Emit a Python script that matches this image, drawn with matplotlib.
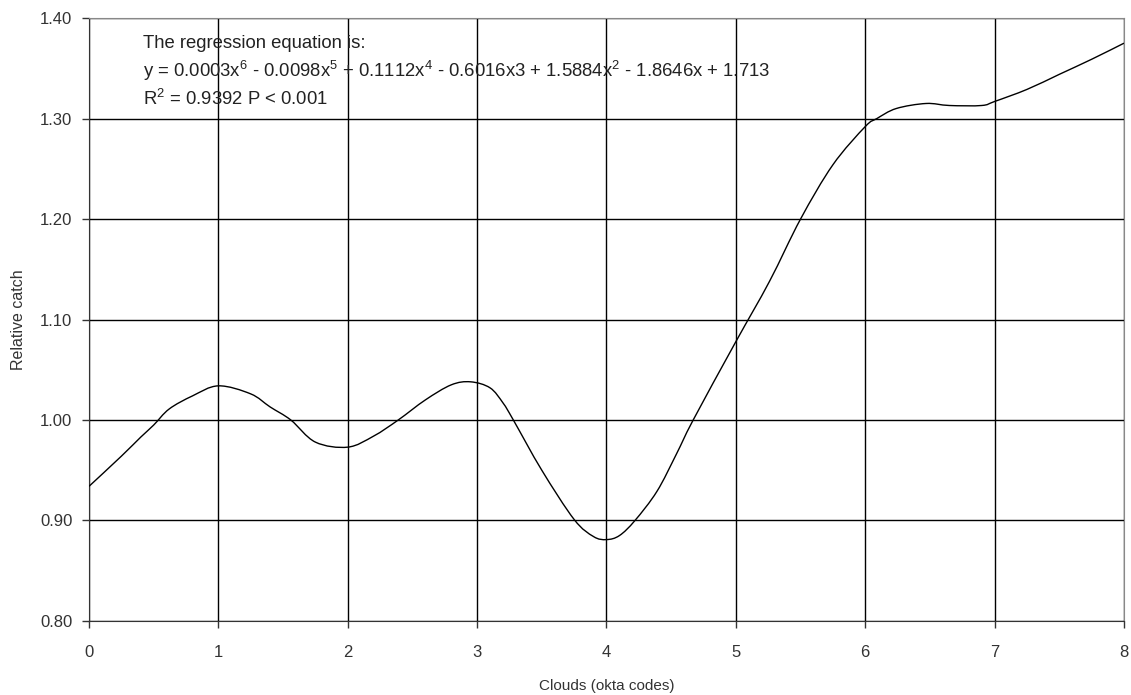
import numpy as np
import matplotlib
matplotlib.use("Agg")
import matplotlib.pyplot as plt
from matplotlib.path import Path
from matplotlib.patches import PathPatch

plt.rcParams['font.family'] = ['Liberation Sans', 'DejaVu Sans']
plt.rcParams['mathtext.fontset'] = 'custom'
plt.rcParams['mathtext.rm'] = 'Liberation Sans'
plt.rcParams['mathtext.it'] = 'Liberation Sans'

# relative catch
clouds = [0, 0.25, 0.4, 0.5, 0.62, 0.8, 1.0, 1.25, 1.4, 1.56, 1.75, 2.0,
          2.2, 2.39, 2.6, 2.8, 2.95, 3.1, 3.2, 3.28, 3.5, 3.75, 3.9, 4.0,
          4.1, 4.22, 4.39, 4.54, 4.67, 5.0, 5.26, 5.5, 5.75, 6.0, 6.09,
          6.24, 6.47, 6.65, 6.9, 7.0, 7.25, 7.5, 7.75, 8.0]
catch = [0.934, 0.964, 0.983, 0.995, 1.011, 1.024, 1.034, 1.026, 1.013, 1.000, 0.978, 0.973,
         0.984, 1.000, 1.020, 1.035, 1.038, 1.032, 1.017, 1.000, 0.950, 0.901, 0.884, 0.881,
         0.885, 0.900, 0.929, 0.966, 1.000, 1.078, 1.138, 1.200, 1.254, 1.292, 1.300,
         1.310, 1.315, 1.313, 1.313, 1.317, 1.329, 1.344, 1.359, 1.375]

x_ticks = list(range(0, 9))
y_ticks = [0.80, 0.90, 1.00, 1.10, 1.20, 1.30, 1.40]

equation_lines = [
    "The regression equation is:",
    "y = 0.0003x$^{6}$ - 0.0098x$^{5}$ + 0.1112x$^{4}$ - 0.6016x3 + 1.5884x$^{2}$ - 1.8646x + 1.713",
    "R$^{2}$ = 0.9392 P < 0.001",
]


def smooth_path(xs, ys):
    # Excel-style smoothed line: cubic Bezier segments through every point
    pts = np.column_stack([xs, ys])
    verts = [pts[0]]
    codes = [Path.MOVETO]
    n = len(pts)
    for i in range(n - 1):
        p0 = pts[i - 1] if i > 0 else pts[i]
        p1 = pts[i]
        p2 = pts[i + 1]
        p3 = pts[i + 2] if i + 2 < n else pts[i + 1]
        c1 = p1 + (p2 - p0) / 6.0
        c2 = p2 - (p3 - p1) / 6.0
        verts += [c1, c2, p2]
        codes += [Path.CURVE4] * 3
    return Path(verts, codes)


fig = plt.figure(figsize=(11.31, 6.95), dpi=100)
ax = fig.add_axes([0.0787, 0.1065, 0.9151, 0.8675])

ax.add_patch(PathPatch(smooth_path(clouds, catch), facecolor='none',
                       edgecolor='black', linewidth=1.0, zorder=3))

ax.set_xlim(0, 8)
ax.set_ylim(0.80, 1.40)
ax.set_xticks(x_ticks)
ax.set_yticks(y_ticks)
ax.set_yticklabels([f"{v:.2f}" for v in y_ticks])
ax.grid(True, color='black', linewidth=1.0)
ax.tick_params(direction='out', length=5, width=1, labelsize=12, colors='#333333')
ax.tick_params(axis='x', pad=12)
ax.tick_params(axis='y', pad=7)

for side in ['left', 'bottom']:
    ax.spines[side].set_color('#333333')
for side in ['top', 'right']:
    ax.spines[side].set_color('#888888')

ax.set_xlabel("Clouds (okta codes)", fontsize=11, labelpad=14, color='#333333')
ax.set_ylabel("Relative catch", fontsize=11.5, labelpad=10, color='#333333')

for i, line in enumerate(equation_lines):
    ax.text(0.415, 1.3745 - i * 0.0275, line, fontsize=13.3, color='#222222',
            va='center', ha='left', zorder=4)

fig.savefig("out.png", dpi=100)
